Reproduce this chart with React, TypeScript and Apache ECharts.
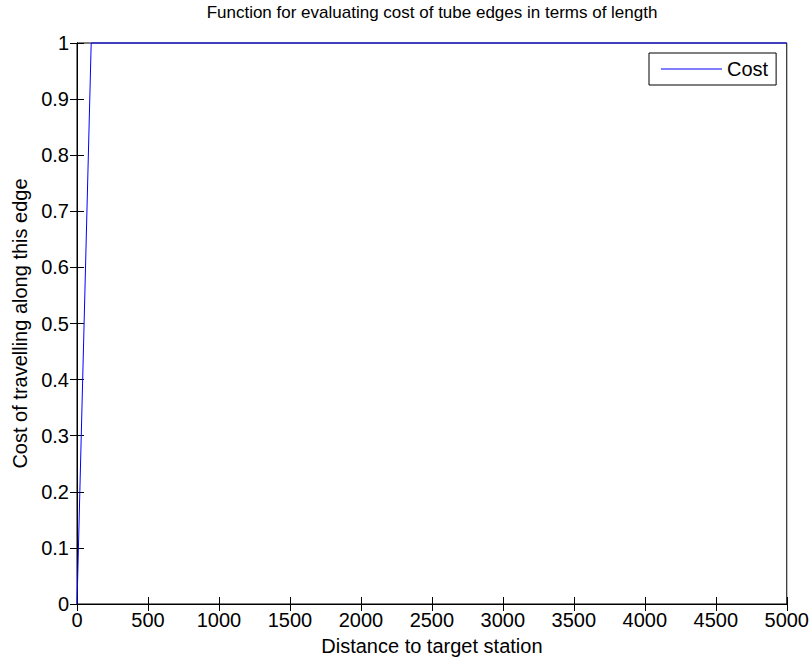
import React, { useEffect, useRef } from "react";
import * as echarts from "echarts";

const xValues = [0, 100, 5000];
const costValues = [0, 1, 1];
const xTicks = [0, 500, 1000, 1500, 2000, 2500, 3000, 3500, 4000, 4500, 5000];
const yTicks = [0, 0.1, 0.2, 0.3, 0.4, 0.5, 0.6, 0.7, 0.8, 0.9, 1];

const FONT = "'Liberation Sans', Arial, Helvetica, sans-serif";

export default function App() {
  const ref = useRef<HTMLDivElement>(null);
  useEffect(() => {
    if (!ref.current) return;
    const chart = echarts.init(ref.current, null, { renderer: "svg" });
    const tickCommon = {
      show: true,
      inside: true,
      length: 7,
      lineStyle: { color: "#000", width: 1 },
    };
    const axisLine = { show: true, lineStyle: { color: "#000", width: 1 } };
    chart.setOption({
      animation: false,
      backgroundColor: "#fff",
      textStyle: { fontFamily: FONT },
      title: {
        text: "Function for evaluating cost of tube edges in terms of length",
        left: 432,
        textAlign: "center",
        top: 0,
        padding: [2, 0, 2, 0],
        textStyle: { fontFamily: FONT, fontSize: 17, lineHeight: 20, fontWeight: "normal", color: "#000" },
      },
      legend: {
        left: 649,
        top: 53,
        orient: "vertical",
        backgroundColor: "#fff",
        borderColor: "#000",
        borderWidth: 1,
        borderRadius: 0,
        padding: [6, 8, 6, 12],
        itemWidth: 61,
        itemHeight: 1,
        itemGap: 5,
        icon: "rect",
        textStyle: { fontFamily: FONT, fontSize: 20, lineHeight: 20, color: "#000" },
        data: ["Cost"],
      },
      grid: {
        left: 77,
        right: 25,
        top: 43,
        bottom: 58,
        show: true,
        borderColor: "#000",
        borderWidth: 1,
        backgroundColor: "#fff",
      },
      xAxis: [
        {
          type: "value",
          min: xTicks[0],
          max: xTicks[xTicks.length - 1],
          interval: 500,
          name: "Distance to target station",
          nameLocation: "middle",
          nameGap: 31,
          nameTextStyle: { fontFamily: FONT, fontSize: 20, lineHeight: 22, color: "#000" },
          axisLine,
          axisTick: tickCommon,
          splitLine: { show: false },
          axisLabel: {
            color: "#000",
            fontSize: 20,
            fontFamily: FONT,
            margin: 6,
            formatter: (v: number) => String(v),
          },
        },
        {
          type: "value",
          position: "top",
          min: xTicks[0],
          max: xTicks[xTicks.length - 1],
          interval: 500,
          axisLine,
          axisTick: tickCommon,
          splitLine: { show: false },
          axisLabel: { show: false },
        },
      ],
      yAxis: [
        {
          type: "value",
          min: yTicks[0],
          max: yTicks[yTicks.length - 1],
          interval: 0.1,
          name: "Cost of travelling along this edge",
          nameLocation: "middle",
          nameGap: 47,
          nameTextStyle: { fontFamily: FONT, fontSize: 20, color: "#000" },
          axisLine,
          axisTick: tickCommon,
          splitLine: { show: false },
          axisLabel: {
            color: "#000",
            fontSize: 20,
            fontFamily: FONT,
            margin: 8,
            formatter: (v: number) => String(Math.round(v * 10) / 10),
          },
        },
        {
          type: "value",
          position: "right",
          min: yTicks[0],
          max: yTicks[yTicks.length - 1],
          interval: 0.1,
          axisLine,
          axisTick: tickCommon,
          splitLine: { show: false },
          axisLabel: { show: false },
        },
      ],
      series: [
        {
          name: "Cost",
          type: "line",
          xAxisIndex: 0,
          yAxisIndex: 0,
          data: xValues.map((x, i) => [x, costValues[i]]),
          symbol: "none",
          clip: false,
          lineStyle: { color: "#0000ff", width: 1 },
          itemStyle: { color: "#0000ff" },
          z: 5,
        },
      ],
    });
    return () => chart.dispose();
  }, []);
  return (
    <div
      ref={ref}
      style={{ position: "fixed", left: 0, top: 0, width: 812, height: 662, background: "#fff" }}
    />
  );
}
